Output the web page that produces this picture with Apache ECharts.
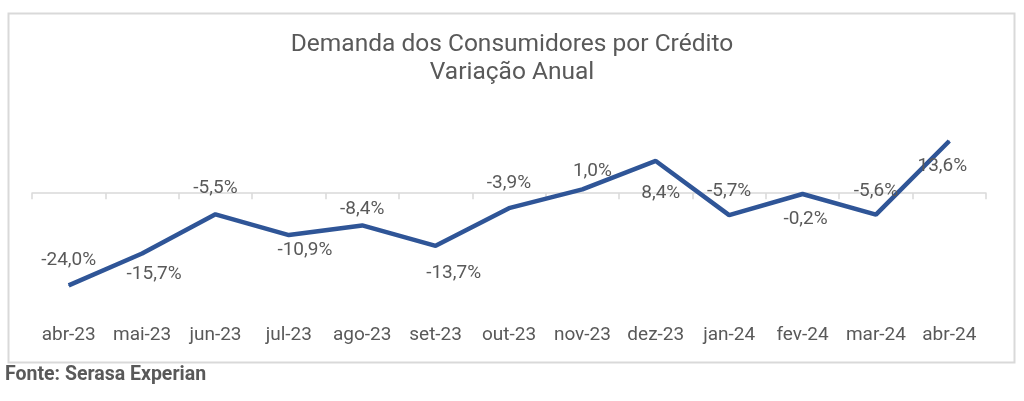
<!DOCTYPE html>
<html>
<head>
<meta charset="utf-8">
<script src="https://cdn.jsdelivr.net/npm/echarts@6/dist/echarts.min.js"></script>
<style>
html,body{margin:0;padding:0;background:#fff;}
#c{width:1024px;height:401px;}
</style>
</head>
<body>
<div id="c"></div>
<script>
const categories = ['abr-23','mai-23','jun-23','jul-23','ago-23','set-23','out-23','nov-23','dez-23','jan-24','fev-24','mar-24','abr-24'];
const values = [-24.0, -15.7, -5.5, -10.9, -8.4, -13.7, -3.9, 1.0, 8.4, -5.7, -0.2, -5.6, 13.6];
const titleText = 'Demanda dos Consumidores por Crédito\nVariação Anual';
const sourceText = 'Fonte: Serasa Experian';

const labelOffsets = [[0,-25],[12,21],[0,-26],[16,15],[0,-16],[18,27],[0,-25],[10,-18],[5,32],[0,-24],[3,25],[0,-23],[-7,25]];
const fmt = v => v.toFixed(1).replace('.', ',') + '%';

const chart = echarts.init(document.getElementById('c'), null, {renderer:'canvas'});
const txt = '#595959';
chart.setOption({
  animation:false,
  backgroundColor:'#fff',
  textStyle:{fontFamily:'Roboto'},
  title:{
    text:titleText, left:'center', top:26,
    textStyle:{fontFamily:'Roboto', fontSize:24.5, fontWeight:'normal', color:txt, lineHeight:28}
  },
  grid:{left:32, right:38, top:116.4, bottom:92.6},
  xAxis:[{
    type:'category', data:categories, boundaryGap:true,
    axisLine:{show:true, onZero:true, lineStyle:{color:'#D9D9D9', width:1.5}},
    axisTick:{show:true, length:6, lineStyle:{color:'#D9D9D9', width:1.5}},
    axisLabel:{show:false}
  },{
    type:'category', data:categories, boundaryGap:true, position:'bottom',
    axisLine:{show:false, onZero:false}, axisTick:{show:false},
    axisLabel:{show:true, interval:0, color:txt, fontSize:19, fontFamily:'Roboto', margin:17}
  }],
  yAxis:{type:'value', min:-30, max:20, show:false, splitLine:{show:false}},
  graphic:[
    {type:'rect', left:6, top:11, shape:{width:1006, height:349}, style:{fill:'none', stroke:'#D9D9D9', lineWidth:2}, z:-1},
    {type:'text', left:5, top:365, style:{text:sourceText, fill:txt, font:'bold 19.5px Roboto'}}
  ],
  series:[{
    type:'line', xAxisIndex:0,
    data: values.map((v,i)=>({value:v, label:{offset:labelOffsets[i]}})),
    symbol:'circle', symbolSize:1, showSymbol:true,
    itemStyle:{color:'#2F5597'},
    lineStyle:{color:'#2F5597', width:4.5},
    label:{show:true, position:'inside', color:txt, fontSize:19, fontFamily:'Roboto', formatter:p=>fmt(p.value)},
    z:3
  }]
});
</script>
</body>
</html>
